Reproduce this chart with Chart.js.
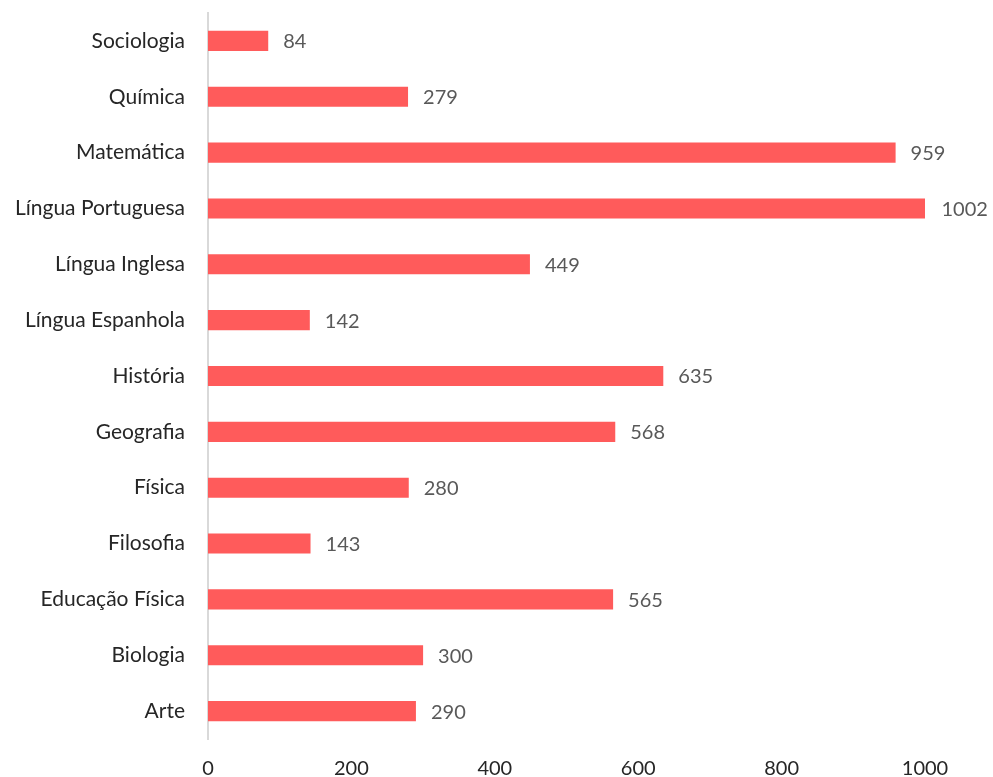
<!DOCTYPE html>
<html>
<head>
<meta charset="utf-8">
<script src="https://cdn.jsdelivr.net/npm/chart.js@4"></script>
<style>
  body { margin: 0; background: #fff; }
</style>
</head>
<body>
<canvas id="chart" width="993" height="777"></canvas>
<script>
const disciplinas = ["Sociologia", "Química", "Matemática", "Língua Portuguesa", "Língua Inglesa",
  "Língua Espanhola", "História", "Geografia", "Física", "Filosofia", "Educação Física", "Biologia", "Arte"];
const valores = [84, 279, 959, 1002, 449, 142, 635, 568, 280, 143, 565, 300, 290];
const ticksX = [0, 200, 400, 600, 800, 1000];

const fonte = "Lato, 'Open Sans', sans-serif";

// rótulos de valor à direita das barras
const rotulos = {
  id: "rotulos",
  afterDatasetsDraw(chart) {
    const ctx = chart.ctx;
    const meta = chart.getDatasetMeta(0);
    ctx.save();
    ctx.font = "20px " + fonte;
    ctx.fillStyle = "#595959";
    ctx.textAlign = "left";
    ctx.textBaseline = "middle";
    meta.data.forEach((bar, i) => {
      ctx.fillText(valores[i], bar.x + 15, bar.y + 1);
    });
    ctx.restore();
  }
};

new Chart(document.getElementById("chart").getContext("2d"), {
  type: "bar",
  data: {
    labels: disciplinas,
    datasets: [{
      data: valores,
      backgroundColor: "#FF5B5B",
      borderWidth: 0,
      barPercentage: 0.36,
      categoryPercentage: 1
    }]
  },
  options: {
    indexAxis: "y",
    responsive: false,
    animation: false,
    layout: { padding: { top: 13, right: 68, left: 0, bottom: 0 } },
    plugins: { legend: { display: false }, tooltip: { enabled: false } },
    scales: {
      x: {
        min: 0,
        max: 1000,
        afterBuildTicks(axis) { axis.ticks = ticksX.map(v => ({ value: v })); },
        afterFit(axis) { axis.height = 38; axis.paddingLeft = 0; axis.paddingRight = 0; },
        grid: { display: false },
        border: { display: false },
        ticks: {
          color: "#262626", font: { family: fonte, size: 20 }, padding: 10,
          callback: v => String(v)
        }
      },
      y: {
        afterFit(axis) { axis.width = 208; axis.paddingTop = 0; axis.paddingBottom = 0; },
        grid: { display: false },
        border: { display: true, color: "#d9d9d9", width: 2 },
        ticks: { color: "#262626", font: { family: fonte, size: 21 }, padding: 15 }
      }
    }
  },
  plugins: [rotulos]
});
</script>
</body>
</html>
